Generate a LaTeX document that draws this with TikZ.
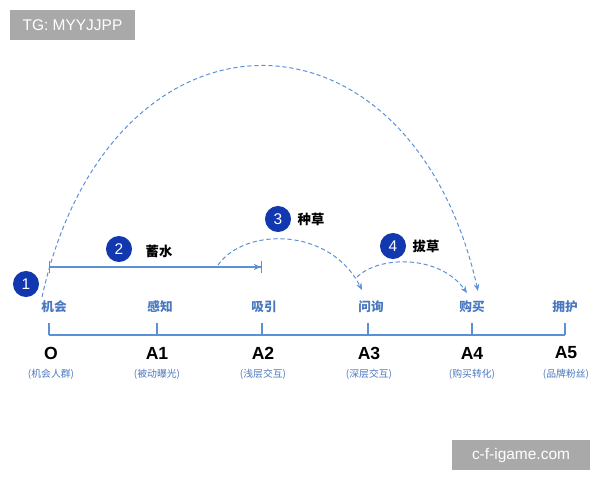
\documentclass[tikz,border=0pt]{standalone}
\usepackage{fontspec}
\setmainfont{Liberation Sans}
\newfontfamily\cjk{Noto Sans CJK SC}
\usetikzlibrary{arrows.meta,positioning}

\definecolor{lineblue}{HTML}{5B8FD6}
\definecolor{textblue}{HTML}{4A78C0}
\definecolor{numblue}{HTML}{1238B0}
\definecolor{markgrey}{HTML}{A9A9A9}

\tikzset{
  stage/.style={font=\cjk\fontsize{9}{10}\selectfont\bfseries, text=textblue},
  point/.style={font=\fontsize{12.5}{14}\selectfont\bfseries},
  note/.style={font=\cjk\fontsize{7}{8}\selectfont, text=textblue},
  num/.style={circle, fill=numblue, text=white, minimum size=18.5pt, inner sep=0pt,
    font=\fontsize{11}{12}\selectfont},
  act/.style={font=\cjk\fontsize{9.5}{11}\selectfont\bfseries},
  flow/.style={lineblue, densely dashed, line width=0.7pt, -{Stealth[length=5pt,width=4pt]}},
  wmark/.style={fill=markgrey, text=white, inner sep=0pt, font=\fontsize{11}{13}\selectfont}
}

\begin{document}
\begin{tikzpicture}[x=0.025cm, y=-0.025cm]
  \useasboundingbox (0,0) rectangle (600,480);

  % watermarks
  \node[wmark, minimum width=125*0.025cm, minimum height=30*0.025cm] (tg) at (72.5,25) {TG: MYYJJPP};
  \node[wmark, minimum width=138*0.025cm, minimum height=30*0.025cm] (site) at (521,455) {c-f-igame.com};

  % axis
  \coordinate (tO) at (49,335);
  \coordinate (t1) at (157,335);
  \coordinate (t2) at (262,335);
  \coordinate (t3) at (368,335);
  \coordinate (t4) at (472,335);
  \coordinate (t5) at (565,335);
  \draw[lineblue, line width=0.8pt] (tO) -- (t5);
  \foreach \t in {tO,t1,t2,t3,t4,t5}
    \draw[lineblue, line width=0.8pt] (\t) -- ++(0,-12);

  % stage names
  \node[stage] (sO) at (54,307) {机会};
  \node[stage] (s1) at (160,307) {感知};
  \node[stage] (s2) at (264,307) {吸引};
  \node[stage] (s3) at (371,307) {问询};
  \node[stage] (s4) at (472,307) {购买};
  \node[stage] (s5) at (565,307) {拥护};

  % points
  \node[point] (pO) at (51,353) {O};
  \node[point] (p1) at (157,353) {A1};
  \node[point] (p2) at (263,353) {A2};
  \node[point] (p3) at (369,353) {A3};
  \node[point] (p4) at (472,353) {A4};
  \node[point] (p5) at (566,353) {A5};
  \node[note, below=0pt of pO] {(机会人群)};
  \node[note, below=0pt of p1] {(被动曝光)};
  \node[note, below=0pt of p2] {(浅层交互)};
  \node[note, below=0pt of p3] {(深层交互)};
  \node[note, below=0pt of p4] {(购买转化)};
  \node[note, below=0pt of p5] {(品牌粉丝)};

  % steps
  \node[num] (n1) at (26,284) {1};
  \node[num] (n2) at (119,249) {2};
  \node[act, right=6pt of n2, yshift=-2pt] (l2) {蓄水};
  \node[num] (n3) at (278,219) {3};
  \node[act, right=1pt of n3] (l3) {种草};
  \node[num] (n4) at (393,246) {4};
  \node[act, right=1pt of n4] (l4) {拔草};

  % flows
  \coordinate (aS) at (49,267);
  \coordinate (aE) at (262,267);
  \draw[lineblue, line width=0.9pt, {Bar[width=8pt]}-{Stealth[length=5pt,width=4.5pt]Bar[width=8pt]}] (aS) -- (aE);

  \coordinate (b1) at (42,297);
  \coordinate (b2) at (478,291);
  \draw[flow] (b1) .. controls (110,-10) and (410,-10) .. (b2);

  \coordinate (c1) at (218,265);
  \coordinate (c2) at (362,290);
  \draw[flow] (c1) .. controls (245,227) and (330,227) .. (c2);

  \coordinate (d1) at (357,277);
  \coordinate (d2) at (467,293);
  \draw[flow] (d1) .. controls (380,255) and (440,255) .. (d2);
\end{tikzpicture}
\end{document}
